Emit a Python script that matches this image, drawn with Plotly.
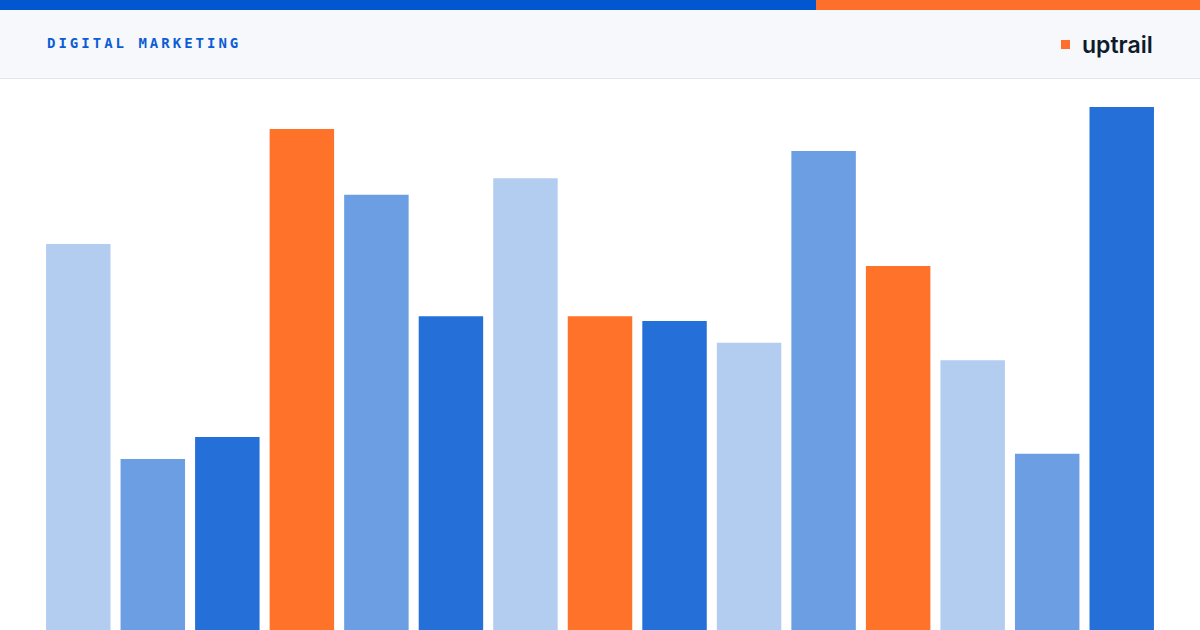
import plotly.graph_objects as go

# bar values (relative campaign scores)
categories = [str(i) for i in range(1, 16)]
values = [73.8, 32.7, 36.9, 95.8, 83.2, 60.0, 86.4, 60.0, 59.1, 54.9, 91.6, 69.6, 51.6, 33.7, 100.0]
tones = ["light", "mid", "dark", "orange", "mid", "dark", "light", "orange",
         "dark", "light", "mid", "orange", "light", "mid", "dark"]

palette = {
    "light": "#b3cdf1",
    "mid": "#6b9ee3",
    "dark": "#2570d8",
    "orange": "#ff7229",
}

W, H = 1200, 630
ML, MR, MT, MB = 41, 41, 78, 0
PW, PH = W - ML - MR, H - MT - MB


def px(x):
    return (x - ML) / PW


def py(y):
    return (H - MB - y) / PH


fig = go.Figure()
fig.add_trace(go.Bar(
    x=categories,
    y=values,
    marker=dict(color=[palette[t] for t in tones], line=dict(width=0)),
    hoverinfo="skip",
))

shapes = [
    # header band
    dict(type="rect", xref="paper", yref="paper", x0=px(0), x1=px(W), y0=py(78), y1=py(10),
         fillcolor="#f6f8fb", line=dict(width=0), layer="below"),
    dict(type="line", xref="paper", yref="paper", x0=px(0), x1=px(W), y0=py(78.5), y1=py(78.5),
         line=dict(color="#e2e5ea", width=1)),
    # top stripe
    dict(type="rect", xref="paper", yref="paper", x0=px(0), x1=px(816), y0=py(10), y1=py(0),
         fillcolor="#0256cf", line=dict(width=0)),
    dict(type="rect", xref="paper", yref="paper", x0=px(816), x1=px(W), y0=py(10), y1=py(0),
         fillcolor="#ff6f2c", line=dict(width=0)),
    # logo mark
    dict(type="rect", xref="paper", yref="paper", x0=px(1061), x1=px(1070), y0=py(49), y1=py(40),
         fillcolor="#ff6f2c", line=dict(width=0)),
]

annotations = [
    dict(text='<span style="letter-spacing:3px">DIGITAL MARKETING</span>',
         xref="paper", yref="paper", x=px(45), y=py(43), xanchor="left", yanchor="middle",
         showarrow=False, font=dict(family="DejaVu Sans Mono", size=14, color="#0b5cd5", weight=700)),
    dict(text="uptrail", xref="paper", yref="paper", x=px(1155), y=py(45), xanchor="right",
         yanchor="middle", showarrow=False,
         font=dict(family="Inter", size=23, color="#0f1b2d", weight=600)),
]

fig.update_layout(
    width=W, height=H,
    margin=dict(l=ML, r=MR, t=MT, b=MB, pad=0),
    paper_bgcolor="white", plot_bgcolor="white",
    bargap=0.135,
    showlegend=False,
    shapes=shapes,
    annotations=annotations,
    xaxis=dict(visible=False, range=[-0.5, len(categories) - 0.5], fixedrange=True),
    yaxis=dict(visible=False, range=[0, max(values) * PH / 523], fixedrange=True),
)

fig.write_html("out.html", config={"displayModeBar": False},
               post_script="document.body.style.margin='0';")
